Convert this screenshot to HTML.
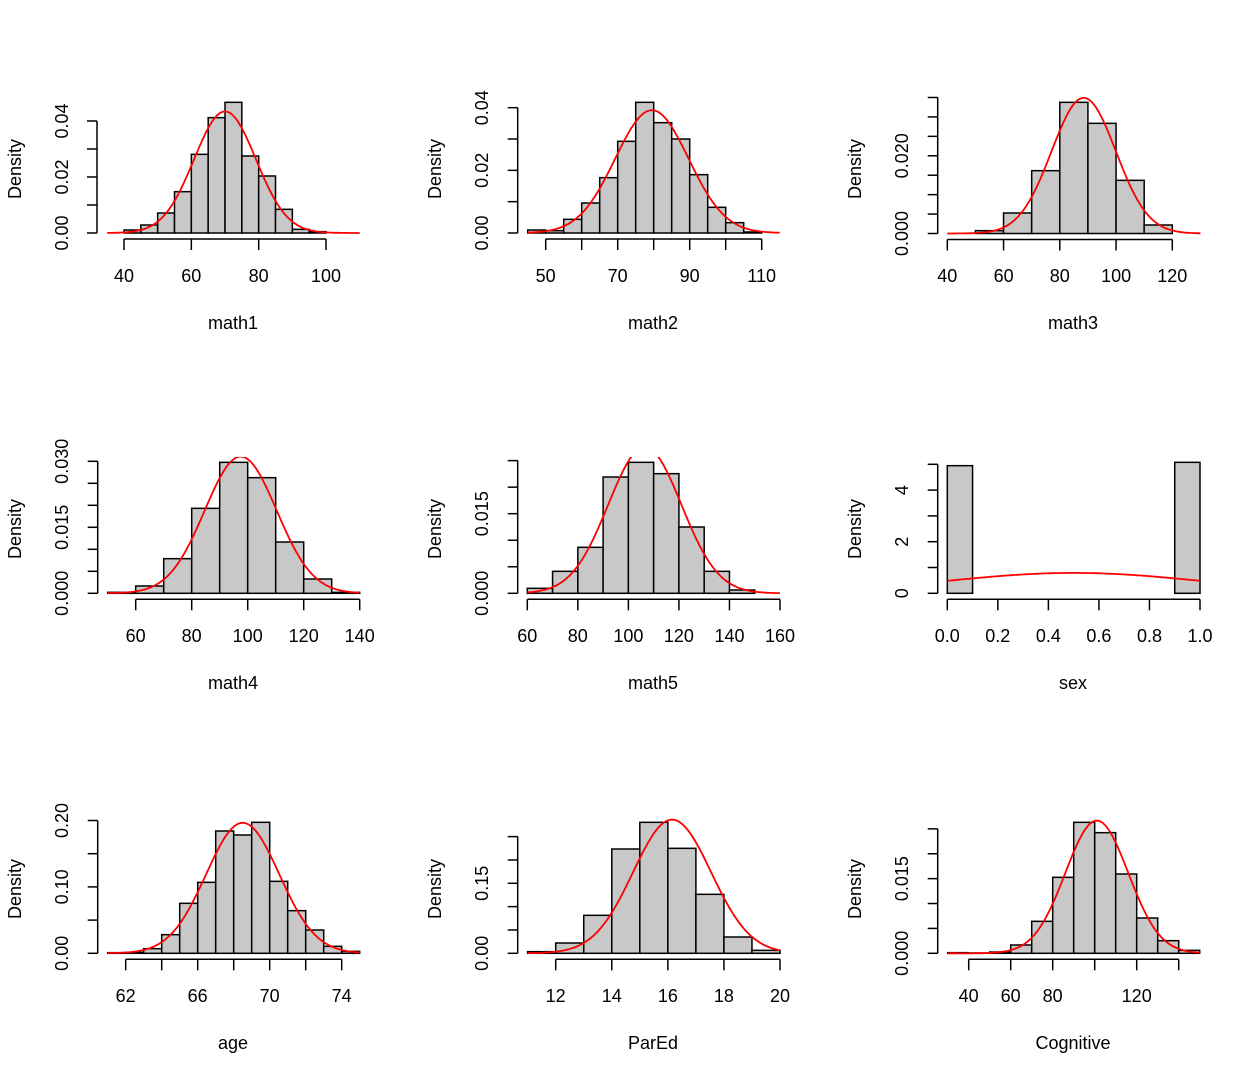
<!DOCTYPE html>
<html><head><meta charset="utf-8"><style>
html,body{margin:0;padding:0;background:#fff;}
svg{display:block;}
text{font-family:"Liberation Sans",sans-serif;font-size:18px;fill:#000;}
</style></head><body>
<svg id="s" width="1260" height="1080" viewBox="0 0 1260 1080" xmlns="http://www.w3.org/2000/svg">
<defs>
<clipPath id="c0"><rect x="0" y="97" width="1260" height="200"/></clipPath>
<clipPath id="c1"><rect x="0" y="457" width="1260" height="200"/></clipPath>
<clipPath id="c2"><rect x="0" y="817" width="1260" height="200"/></clipPath>
</defs>
<g id="shapes"></g>
<g text-anchor="middle" dominant-baseline="central">
<!-- x labels row 1 -->
<text x="124" y="276">40</text><text x="191.3" y="276">60</text><text x="258.7" y="276">80</text><text x="326" y="276">100</text>
<text x="545.7" y="276">50</text><text x="617.7" y="276">70</text><text x="689.7" y="276">90</text><text x="761.7" y="276">110</text>
<text x="947.3" y="276">40</text><text x="1003.6" y="276">60</text><text x="1059.8" y="276">80</text><text x="1116.1" y="276">100</text><text x="1172.3" y="276">120</text>
<!-- row 2 -->
<text x="135.7" y="636">60</text><text x="191.7" y="636">80</text><text x="247.7" y="636">100</text><text x="303.7" y="636">120</text><text x="359.7" y="636">140</text>
<text x="527.3" y="636">60</text><text x="577.8" y="636">80</text><text x="628.4" y="636">100</text><text x="678.9" y="636">120</text><text x="729.5" y="636">140</text><text x="780" y="636">160</text>
<text x="947.3" y="636">0.0</text><text x="997.8" y="636">0.2</text><text x="1048.4" y="636">0.4</text><text x="1098.9" y="636">0.6</text><text x="1149.5" y="636">0.8</text><text x="1200" y="636">1.0</text>
<!-- row 3 -->
<text x="125.7" y="996">62</text><text x="197.7" y="996">66</text><text x="269.7" y="996">70</text><text x="341.7" y="996">74</text>
<text x="555.7" y="996">12</text><text x="611.8" y="996">14</text><text x="667.9" y="996">16</text><text x="723.9" y="996">18</text><text x="780" y="996">20</text>
<text x="968.7" y="996">40</text><text x="1010.7" y="996">60</text><text x="1052.7" y="996">80</text><text x="1136.7" y="996">120</text>
<!-- xlabs -->
<text x="233" y="323">math1</text><text x="653" y="323">math2</text><text x="1073" y="323">math3</text>
<text x="233" y="683">math4</text><text x="653" y="683">math5</text><text x="1073" y="683">sex</text>
<text x="233" y="1043">age</text><text x="653" y="1043">ParEd</text><text x="1073" y="1043">Cognitive</text>
<!-- Density -->
<text transform="translate(15,169) rotate(-90)">Density</text>
<text transform="translate(435,169) rotate(-90)">Density</text>
<text transform="translate(855,169) rotate(-90)">Density</text>
<text transform="translate(15,529) rotate(-90)">Density</text>
<text transform="translate(435,529) rotate(-90)">Density</text>
<text transform="translate(855,529) rotate(-90)">Density</text>
<text transform="translate(15,889) rotate(-90)">Density</text>
<text transform="translate(435,889) rotate(-90)">Density</text>
<text transform="translate(855,889) rotate(-90)">Density</text>
<!-- y tick labels -->
<text transform="translate(62,233) rotate(-90)">0.00</text><text transform="translate(62,177) rotate(-90)">0.02</text><text transform="translate(62,121) rotate(-90)">0.04</text>
<text transform="translate(482,233) rotate(-90)">0.00</text><text transform="translate(482,170.3) rotate(-90)">0.02</text><text transform="translate(482,107.7) rotate(-90)">0.04</text>
<text transform="translate(902,233.5) rotate(-90)">0.000</text><text transform="translate(902,155.8) rotate(-90)">0.020</text>
<text transform="translate(62,593.3) rotate(-90)">0.000</text><text transform="translate(62,527.3) rotate(-90)">0.015</text><text transform="translate(62,461.3) rotate(-90)">0.030</text>
<text transform="translate(482,593.3) rotate(-90)">0.000</text><text transform="translate(482,513.7) rotate(-90)">0.015</text>
<text transform="translate(902,593.3) rotate(-90)">0</text><text transform="translate(902,541.7) rotate(-90)">2</text><text transform="translate(902,490.1) rotate(-90)">4</text>
<text transform="translate(62,953.3) rotate(-90)">0.00</text><text transform="translate(62,886.9) rotate(-90)">0.10</text><text transform="translate(62,820.5) rotate(-90)">0.20</text>
<text transform="translate(482,953.3) rotate(-90)">0.00</text><text transform="translate(482,883.3) rotate(-90)">0.15</text>
<text transform="translate(902,953.3) rotate(-90)">0.000</text><text transform="translate(902,878.6) rotate(-90)">0.015</text>
</g>
</svg>
<script>
var P=[
{row:0,ox:0,x0:124,v0:40,sx:3.367,base:233,sy:2800,ax:97,b0:35,bw:5,bars:[461,450,435,399,335,223,113,67,228,288,388,448,455,459,459],m:70,sd:9.19,xt:[40,50,60,70,80,90,100].filter(function(v){return v%20==0}),yt:[0,.01,.02,.03,.04]},
{row:0,ox:420,x0:545.7,v0:50,sx:3.6,base:233,sy:3133,ax:517.7,b0:45,bw:5,bars:[450,452,418,369,293,184,67,128,177,284,382,428,456,460],m:79.5,sd:10.18,xt:[50,60,70,80,90,100,110],yt:[0,.01,.02,.03,.04]},
{row:0,ox:840,x0:947.3,v0:40,sx:2.8125,base:233.5,sy:3886,ax:937.7,b0:40,bw:10,bars:[461,452,399,272,67,130,301,435,461],m:88.5,sd:11.43,xt:[40,60,80,100,120],yt:[0,.005,.01,.015,.02,.025,.03,.035]},
{row:1,ox:0,x0:135.7,v0:60,sx:2.8,base:593.3,sy:4400,ax:97.7,b0:50,bw:10,bars:[487,468,386,235,97,143,336,447,487],m:97.5,sd:12.84,xt:[60,80,100,120,140],yt:[0,.005,.01,.015,.02,.025,.03]},
{row:1,ox:420,x0:527.3,v0:60,sx:2.527,base:593.3,sy:5307,ax:517.7,b0:60,bw:10,bars:[475,424,352,141,97,131,291,424,480,490],m:106.5,sd:14.5,xt:[60,80,100,120,140,160],yt:[0,.005,.01,.015,.02,.025]},
{row:1,ox:840,x0:947.3,v0:0,sx:252.7,base:593.3,sy:25.8,ax:937.7,b0:0,bw:.1,bars:[107,490,490,490,490,490,490,490,490,97],m:.5,sd:.505,xt:[0,.2,.4,.6,.8,1],yt:[0,1,2,3,4,5]},
{row:2,ox:0,x0:125.7,v0:62,sx:18,base:953.3,sy:664,ax:97.7,b0:61,bw:1,bars:[488,487,476,434,340,277,123,135,97,274,362,420,469,484],m:68.5,sd:2.03,xt:[62,64,66,68,70,72,74],yt:[0,.05,.1,.15,.2]},
{row:2,ox:420,x0:555.7,v0:12,sx:28.04,base:953.3,sy:466.7,ax:517.7,b0:11,bw:1,bars:[485,459,376,177,97,175,313,441,481],m:16.15,sd:1.393,xt:[12,14,16,18,20],yt:[0,.05,.1,.15,.2,.25]},
{row:2,ox:840,x0:968.7,v0:40,sx:2.1,base:953.3,sy:4978,ax:937.7,b0:30,bw:10,bars:[488,489,486,465,394,262,97,128,252,384,452,481],m:101,sd:14.97,xt:[40,60,80,100,120,140],yt:[0,.005,.01,.015,.02,.025]}
];
var NS="http://www.w3.org/2000/svg",g=document.getElementById("shapes");
function el(t,a){var e=document.createElementNS(NS,t);for(var k in a)e.setAttribute(k,a[k]);g.appendChild(e);return e;}
P.forEach(function(p){
 var roff=[80,430,790][p.row];
 function X(v){return p.x0+(v-p.v0)*p.sx;}
 function Y(d){return p.base-d*p.sy;}
 for(var i=0;i<p.bars.length;i++){
  var l=X(p.b0+i*p.bw),r=X(p.b0+(i+1)*p.bw),t=roff+p.bars[i]/3;
  if(t>p.base)t=p.base;
  el("rect",{x:l,y:t,width:r-l,height:p.base-t,fill:"#c8c8c8",stroke:"#000","stroke-width":1.5});
 }
 var a=p.b0,b=p.b0+p.bw*p.bars.length,pts=[];
 for(var k=0;k<=200;k++){var v=a+(b-a)*k/200;var d=Math.exp(-(v-p.m)*(v-p.m)/(2*p.sd*p.sd))/(p.sd*2.5066283);pts.push(X(v).toFixed(1)+","+Y(d).toFixed(1));}
 el("polyline",{points:pts.join(" "),fill:"none",stroke:"#ff0000","stroke-width":1.8,"clip-path":"url(#c"+p.row+")"});
 // y axis
 var y1=Y(p.yt[0]),y2=Y(p.yt[p.yt.length-1]);
 el("line",{x1:p.ax,y1:y1,x2:p.ax,y2:y2,stroke:"#000","stroke-width":1.5});
 p.yt.forEach(function(d){el("line",{x1:p.ax-10,y1:Y(d),x2:p.ax,y2:Y(d),stroke:"#000","stroke-width":1.5});});
 // x axis
 var ay=p.base+6;
 el("line",{x1:X(p.xt[0]),y1:ay,x2:X(p.xt[p.xt.length-1]),y2:ay,stroke:"#000","stroke-width":1.5});
 p.xt.forEach(function(v){el("line",{x1:X(v),y1:ay,x2:X(v),y2:ay+11,stroke:"#000","stroke-width":1.5});});
});
</script>
</body></html>
